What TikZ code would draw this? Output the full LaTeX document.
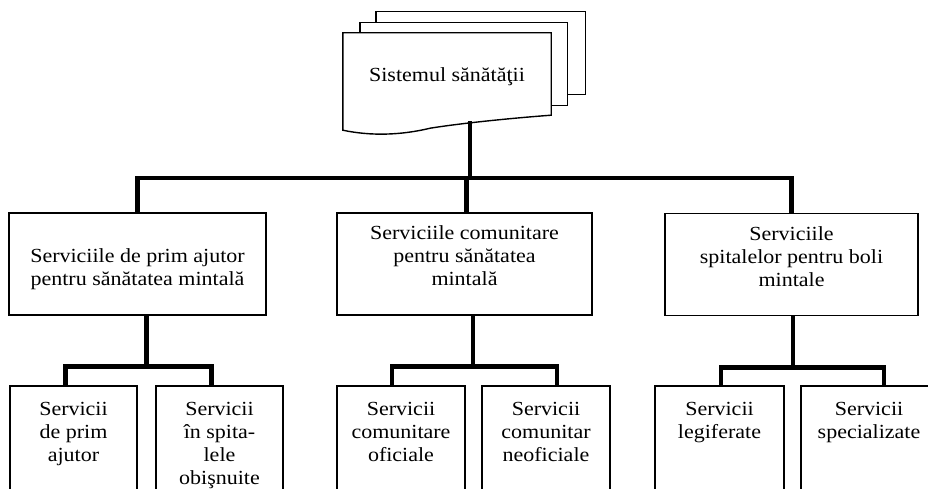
\documentclass[tikz,border=0pt]{standalone}
\usepackage{fontspec}
\setmainfont{Liberation Serif}[FakeStretch=1.1]
\usepackage{tikz}
\usetikzlibrary{calc}
\tikzset{
  unit/.style={
    draw=black, line width=1.5pt, align=center, inner sep=4pt,
    font=\fontsize{20}{23}\selectfont
  },
  mid/.style={unit, minimum height=102pt},
  leaf/.style={unit, anchor=north, inner ysep=17pt, text depth=160pt},
  sheet/.style={draw=black, line width=1.4pt, fill=white},
  link/.style={draw=black, line width=4.6pt, line cap=butt, line join=miter},
  every picture/.append style={x=1pt, y=-1pt}
}
\begin{document}
\begin{tikzpicture}
  \useasboundingbox (0,0) rectangle (928,489);
  \clip (0,0) rectangle (928,489);
  \fill[white] (0,0) rectangle (928,489);
  % stack of pages on top
  \node[font=\fontsize{20}{23}\selectfont, minimum width=208pt, minimum height=88pt, inner sep=0pt] (sys) at (447,77) {};
  \draw[sheet] ($(sys.north west)+(33,-21)$) rectangle ($(sys.north east)+(34,62)$);
  \draw[sheet] ($(sys.north west)+(17,-10)$) rectangle ($(sys.north east)+(16,73)$);
  \draw[sheet] (sys.north west) -- (sys.north east) -- ($(sys.south east)+(0,-6)$)
    .. controls ($(sys.south east)+(-40,-3)$) and ($(sys.south east)+(-90,2)$) .. ($(sys.south east)+(-121,7)$)
    .. controls ($(sys.south east)+(-150,14)$) and ($(sys.south east)+(-180,15)$) .. ($(sys.south west)+(0,9)$)
    -- cycle;
  \node[font=\fontsize{20}{23}\selectfont] at (sys) {Sistemul sănătăţii};
  % second level
  \node[mid, minimum width=257pt, text height=48pt] (aid) at (137.5,264) {Serviciile de prim ajutor\\pentru sănătatea mintală};
  \node[mid, minimum width=255pt, text depth=16pt] (com) at (464.5,264) {Serviciile comunitare\\pentru sănătatea\\mintală};
  \node[mid, minimum width=253pt, text depth=16pt] (hos) at (791.5,264.5) {Serviciile\\spitalelor pentru boli\\mintale};
  % third level
  \node[leaf, minimum width=127pt] (aidA) at (73.5,385) {Servicii\\de prim\\ajutor};
  \node[leaf, minimum width=127pt] (aidB) at (219.5,385) {Servicii\\în spita-\\lele\\obişnuite};
  \node[leaf, minimum width=128pt] (comA) at (401,385) {Servicii\\comunitare\\oficiale};
  \node[leaf, minimum width=128pt] (comB) at (546,385) {Servicii\\comunitar\\neoficiale};
  \node[leaf, minimum width=129pt] (hosA) at (719.5,385) {Servicii\\legiferate};
  \node[leaf, minimum width=136pt] (hosB) at (869,385) {Servicii\\specializate};
  % connectors
  \coordinate (bar) at (470,178);
  \draw[link] ([xshift=23pt]sys.south) -- (bar);
  \draw[link] (aid.north) |- (bar) -| (hos.north);
  \draw[link] (bar) -| ([xshift=2pt]com.north);
  \foreach \p/\offP/\a/\offA/\b/\offB in {aid/9/aidA/-8/aidB/-8, com/8.5/comA/-9/comB/11, hos/1.5/hosA/1.5/hosB/15} {
    \draw[link] ([xshift=\offP pt]\p.south) -- ++(0,51) coordinate (\p-j);
    \draw[link] ([xshift=\offA pt]\a.north) |- (\p-j) -| ([xshift=\offB pt]\b.north);
  }
\end{tikzpicture}
\end{document}
